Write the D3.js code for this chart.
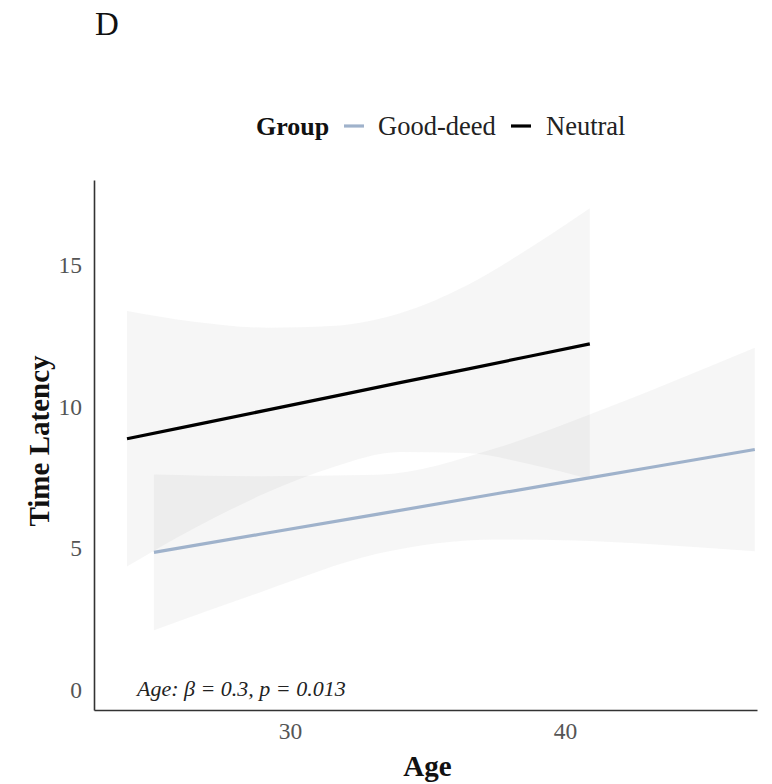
<!DOCTYPE html>
<html><head><meta charset="utf-8">
<script src="https://cdn.jsdelivr.net/npm/d3@7"></script>
<style>
body{margin:0;background:#fff;}
svg{display:block;font-family:"Liberation Serif","Times New Roman",serif;}
</style></head>
<body><svg id="chart" width="772" height="784"></svg>
<script>
// ---- data ----
const groups = ["Good-deed", "Neutral"];
const groupColors = ["#9fb2cb", "#000000"];

const goodAge   = [25.05, 28.9, 33.2, 37.5, 40.4, 43.3, 46.9];
const goodFit   = [4.86, 5.50, 6.21, 6.93, 7.41, 7.89, 8.49];
const goodLower = [2.11, 3.45, 4.82, 5.32, 5.28, 5.14, 4.90];
const goodUpper = [7.61, 7.55, 7.60, 8.54, 9.54, 10.64, 12.08];

const neutralAge   = [24.07, 26.5, 29.2, 31.5, 34.0, 36.4, 38.8, 40.9];
const neutralFit   = [8.87, 9.35, 9.89, 10.35, 10.85, 11.32, 11.80, 12.22];
const neutralLower = [4.36, 5.70, 6.99, 7.85, 8.40, 8.37, 7.95, 7.44];
const neutralUpper = [13.38, 13.00, 12.79, 12.85, 13.30, 14.27, 15.65, 17.00];

const yTicks = [0, 5, 10, 15];
const xTicks = [30, 40];
const panelLabel = "D";
const annotation = "Age: β = 0.3, p = 0.013";

// ---- layout ----
const svg = d3.select("#chart");
const W = 772, H = 784;
const m = {left: 94, right: 15, top: 180, bottom: 74};
const x = d3.scaleLinear().domain([22.87, 46.98]).range([m.left, W - m.right]);
const y = d3.scaleLinear().domain([-0.7, 18]).range([H - m.bottom, m.top]);

const series = [
  {name: groups[0], color: groupColors[0], age: goodAge, fit: goodFit, lo: goodLower, hi: goodUpper},
  {name: groups[1], color: groupColors[1], age: neutralAge, fit: neutralFit, lo: neutralLower, hi: neutralUpper}
];

// ribbons
const area = d3.area().curve(d3.curveMonotoneX)
  .x(d => x(d.a)).y0(d => y(d.lo)).y1(d => y(d.hi));
series.forEach(s => {
  const pts = s.age.map((a, i) => ({a, lo: s.lo[i], hi: s.hi[i]}));
  svg.append("path").attr("d", area(pts))
    .attr("fill", "#999999").attr("fill-opacity", 0.085);
});

// lines
const line = d3.line().x(d => x(d.a)).y(d => y(d.f));
series.forEach(s => {
  const pts = s.age.map((a, i) => ({a, f: s.fit[i]}));
  svg.append("path").attr("d", line(pts))
    .attr("fill", "none").attr("stroke", s.color)
    .attr("stroke-width", 3.2).attr("stroke-linecap", "butt");
});

// axes
const gx = svg.append("g").attr("transform", `translate(0,${H - m.bottom})`)
  .call(d3.axisBottom(x).tickValues(xTicks).tickSize(0).tickPadding(12).tickFormat(d3.format("d")));
const gy = svg.append("g").attr("transform", `translate(${m.left},0)`)
  .call(d3.axisLeft(y).tickValues(yTicks).tickSize(0).tickPadding(12).tickFormat(d3.format("d")));
[gx, gy].forEach(g => {
  g.select(".domain").attr("stroke", "#333").attr("stroke-width", 1.6);
  g.selectAll("text").attr("font-family", "Liberation Serif, serif")
    .attr("font-size", 23.5).attr("fill", "#555");
});

// axis titles
svg.append("text").attr("x", (m.left + W - m.right) / 2 + 2).attr("y", 776)
  .attr("text-anchor", "middle").attr("font-weight", "bold").attr("font-size", 29)
  .attr("fill", "#111").text("Age");
svg.append("text").attr("transform", `translate(49,441) rotate(-90)`)
  .attr("text-anchor", "middle").attr("font-weight", "bold").attr("font-size", 29)
  .attr("fill", "#111").text("Time Latency");

// annotation
svg.append("text").attr("x", 137).attr("y", 696)
  .attr("font-style", "italic").attr("font-size", 22).attr("fill", "#222")
  .text(annotation);

// panel label
svg.append("text").attr("x", 95).attr("y", 35)
  .attr("font-size", 33).attr("fill", "#111").text(panelLabel);

// legend
const lg = svg.append("g");
lg.append("text").attr("x", 256).attr("y", 135).attr("font-weight", "bold")
  .attr("font-size", 26).attr("fill", "#111").text("Group");
const keyX = [344, 511], textX = [378, 546];
series.forEach((s, i) => {
  lg.append("line").attr("x1", keyX[i]).attr("x2", keyX[i] + 20)
    .attr("y1", 126).attr("y2", 126).attr("stroke", s.color).attr("stroke-width", 3.2);
  lg.append("text").attr("x", textX[i]).attr("y", 135).attr("font-size", 26.5)
    .attr("fill", "#222").text(s.name);
});
</script>
</body></html>
